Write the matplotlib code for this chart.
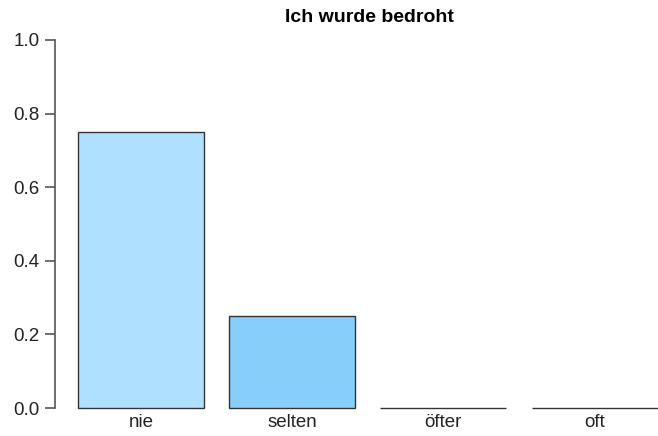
import matplotlib
matplotlib.use("Agg")
import matplotlib.pyplot as plt
import numpy as np

plt.rcParams['font.family'] = ['Liberation Sans', 'DejaVu Sans']

# values
categories = ['nie', 'selten', 'öfter', 'oft']
shares = [0.75, 0.25, 0.0, 0.0]
bar_colors = ['#B0E0FF', '#87CEFA', '#87CEFA', '#87CEFA']
title = 'Ich wurde bedroht'
yticks = [0.0, 0.2, 0.4, 0.6, 0.8, 1.0]

W, H = 658, 436
fig = plt.figure(figsize=(W / 100, H / 100), dpi=100)

# axes box in pixels (mimicking an R barplot, right side runs off the canvas)
left, right, bottom, top = 54.8, 680.8, 408, 40
ax = fig.add_axes([left / W, (H - bottom) / H, (right - left) / W, (bottom - top) / H])

# R style bar positions: width 1, space 0.2
pos = 0.2 + 1.2 * np.arange(len(categories)) + 0.5
bars = ax.bar(pos, shares, width=1.0, color=bar_colors, edgecolor='#333333', linewidth=1.0)
for b in bars:
    b.set_clip_on(False)

ax.set_xlim(0.016, 4.984)
ax.set_ylim(0, 1)
ax.set_yticks(yticks)
ax.set_yticklabels(['%.1f' % t for t in yticks])
ax.set_xticks(pos)
ax.set_xticklabels(categories)

for s in ['top', 'right', 'bottom']:
    ax.spines[s].set_visible(False)
ax.spines['left'].set_color('#555555')
ax.spines['left'].set_linewidth(1.2)
ax.tick_params(axis='y', length=7, width=1.2, color='#555555', labelsize=13.5, pad=4, labelcolor='#222222')
ax.tick_params(axis='x', length=0, labelsize=13.5, pad=4, labelcolor='#222222')

fig.text(369 / W, 1 - 17.5 / H, title, ha='center', va='center', fontsize=14, fontweight='bold')

fig.savefig('out.png', dpi=100)
